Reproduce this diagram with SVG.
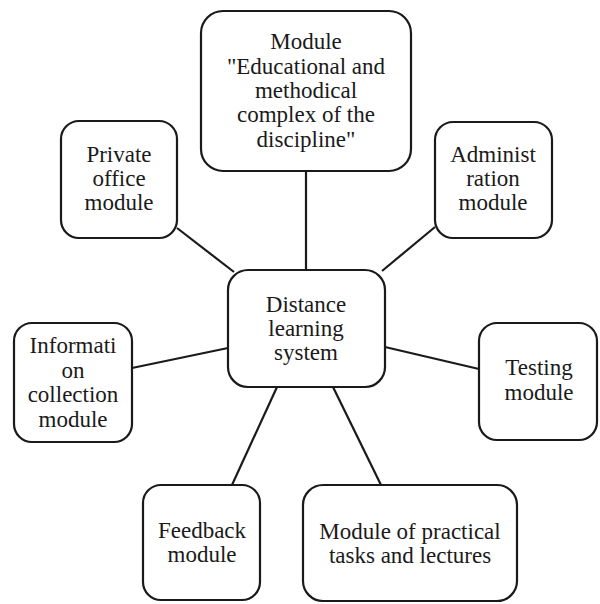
<svg xmlns="http://www.w3.org/2000/svg" width="600" height="604" viewBox="0 0 600 604">
<style>
.box{fill:#fff;stroke:#1a1a1a;stroke-width:2.2}
.t{font-family:'Liberation Serif','Times New Roman',serif;font-size:23px;fill:#1a1a1a;text-anchor:middle}
.c line{stroke:#1a1a1a;stroke-width:2.2}
</style>
<rect width="600" height="604" fill="#fff"/>
<g class="c" id="connectors">
<line x1="306" y1="171" x2="306" y2="271"/>
<line x1="177" y1="228" x2="234" y2="272"/>
<line x1="435" y1="227" x2="382" y2="271"/>
<line x1="132" y1="368" x2="228" y2="348"/>
<line x1="385" y1="347" x2="479" y2="369"/>
<line x1="277" y1="387" x2="232" y2="485"/>
<line x1="333" y1="387" x2="381" y2="485"/>
</g>
<g id="top">
<rect class="box" x="201" y="11" width="210" height="160" rx="22"/>
<text class="t" x="306" y="49">Module</text>
<text class="t" x="306" y="74">"Educational and</text>
<text class="t" x="306" y="98">methodical</text>
<text class="t" x="306" y="122">complex of the</text>
<text class="t" x="306" y="147">discipline"</text>
</g>
<g id="center">
<rect class="box" x="228" y="270" width="157" height="117" rx="20"/>
<text class="t" x="306" y="312">Distance</text>
<text class="t" x="306" y="336">learning</text>
<text class="t" x="306" y="360">system</text>
</g>
<g id="private">
<rect class="box" x="61" y="121" width="116" height="117" rx="18"/>
<text class="t" x="119" y="162">Private</text>
<text class="t" x="119" y="186">office</text>
<text class="t" x="119" y="210">module</text>
</g>
<g id="admin">
<rect class="box" x="435" y="122" width="117" height="116" rx="18"/>
<text class="t" x="493" y="162">Administ</text>
<text class="t" x="493" y="186">ration</text>
<text class="t" x="493" y="210">module</text>
</g>
<g id="info">
<rect class="box" x="14" y="323" width="118" height="119" rx="18"/>
<text class="t" x="73" y="353">Informati</text>
<text class="t" x="73" y="378">on</text>
<text class="t" x="73" y="402">collection</text>
<text class="t" x="73" y="427">module</text>
</g>
<g id="testing">
<rect class="box" x="479" y="323" width="118" height="117" rx="18"/>
<text class="t" x="539" y="375">Testing</text>
<text class="t" x="539" y="400">module</text>
</g>
<g id="feedback">
<rect class="box" x="143" y="485" width="117" height="115" rx="18"/>
<text class="t" x="202" y="538">Feedback</text>
<text class="t" x="202" y="562">module</text>
</g>
<g id="practical">
<rect class="box" x="303" y="485" width="214" height="116" rx="20"/>
<text class="t" x="410" y="539">Module of practical</text>
<text class="t" x="410" y="563">tasks and lectures</text>
</g>
</svg>
